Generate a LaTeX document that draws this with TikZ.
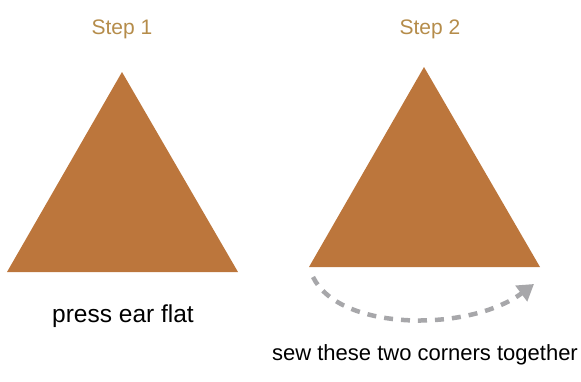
\documentclass[tikz,border=0pt]{standalone}
\usepackage{fontspec}
\setmainfont{Liberation Sans}
\usetikzlibrary{arrows.meta}
\definecolor{earbrown}{RGB}{188,118,60}
\definecolor{steptan}{RGB}{181,140,74}
\definecolor{seamgray}{RGB}{167,167,170}
\begin{document}
\begin{tikzpicture}[x=1pt,y=-1pt,
    steplabel/.style={text=steptan,font=\fontsize{21}{25}\selectfont},
    notelabel/.style={text=black,font=\fontsize{22}{26}\selectfont},
    ear/.style={fill=earbrown,draw=none}]
                \useasboundingbox (0,0) rectangle (581,381);
                
                % Step labels
                \node[steplabel] (stepone) at (122,29) {Step 1};
                \node[steplabel] (steptwo) at (430,29) {Step 2};
                
                % Step 1 - ear triangle
                \coordinate (topone) at (122,72);
                \coordinate (leftone) at (7,272);
                \coordinate (rightone) at (238,272);
                \fill[ear] (topone) -- (rightone) -- (leftone) -- cycle;
                
                % Step 2 - ear triangle
                \coordinate (toptwo) at (424,67);
                \coordinate (lefttwo) at (309,267);
                \coordinate (righttwo) at (540,267);
                \fill[ear] (toptwo) -- (righttwo) -- (lefttwo) -- cycle;
                
                % Notes
                \node[notelabel,font=\fontsize{24.5}{29}\selectfont] (press) at (123,316) {press ear flat};
                \node[notelabel] (sew) at (425,355) {sew these two corners together};
                
                % Seam arrow
                \coordinate (seamstart) at (313,277);
                \coordinate (seamend) at (534,284);
                \draw[seamgray,line width=4.5pt,dash pattern=on 9pt off 8pt,
                      -{Triangle[length=16pt,width=19pt]}]
                  (seamstart) .. controls (340,332) and (470,332) .. (seamend);
                
            \end{tikzpicture}
\end{document}
